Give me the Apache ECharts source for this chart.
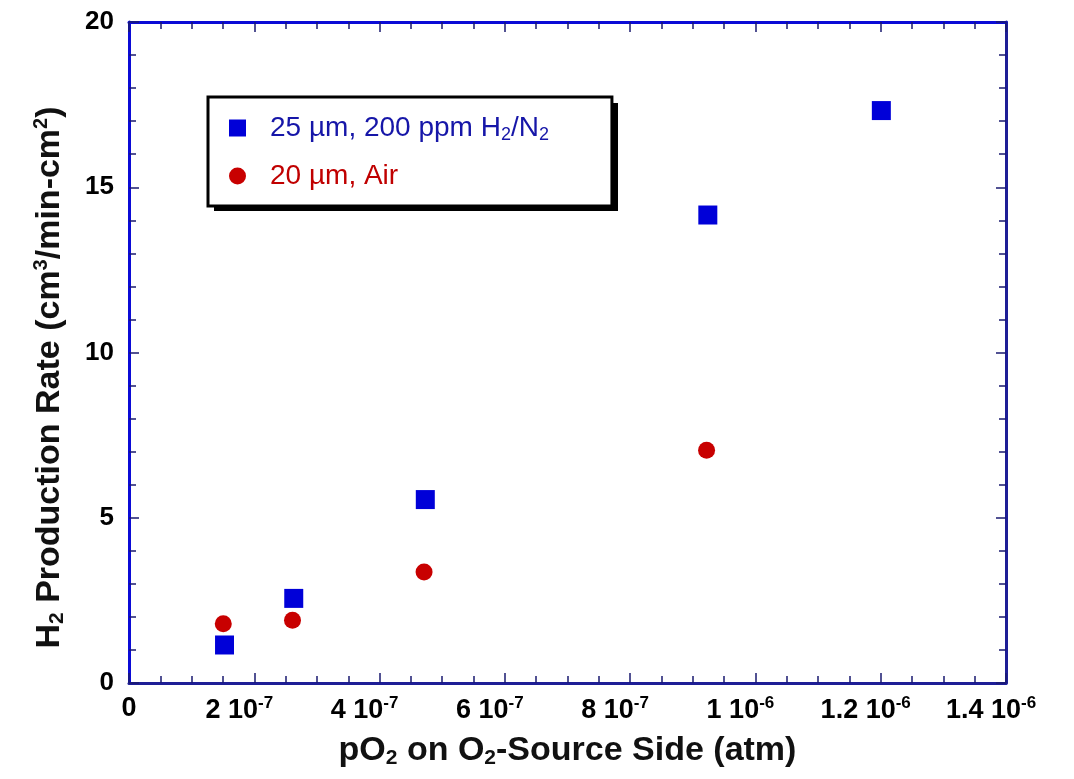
<!DOCTYPE html>
<html>
<head>
<meta charset="utf-8">
<script src="https://cdn.jsdelivr.net/npm/echarts@6/dist/echarts.min.js"></script>
<style>
  html, body { margin: 0; padding: 0; background: #fff; }
  #chart { width: 1074px; height: 779px; }
</style>
</head>
<body>
<div id="chart"></div>
<script>
// H2 production rate vs pO2 on the O2-source side
const seriesNames = ['25 µm, 200 ppm H2/N2', '20 µm, Air'];

const h2n2Po2 = [1.525e-7, 2.63e-7, 4.73e-7, 9.24e-7, 1.201e-6];
const h2n2Rate = [1.15, 2.56, 5.55, 14.16, 17.32];

const airPo2 = [1.505e-7, 2.61e-7, 4.71e-7, 9.22e-7];
const airRate = [1.79, 1.90, 3.36, 7.04];

// tick labels of the pO2 axis (rich text, exponent as superscript)
const xTickLabels = ['0', '2 10{sup|-7}', '4 10{sup|-7}', '6 10{sup|-7}', '8 10{sup|-7}',
  '1 10{sup|-6}', '1.2 10{sup|-6}', '1.4 10{sup|-6}'];

const pairs = (xs, ys) => xs.map((x, i) => [x, ys[i]]);

const chart = echarts.init(document.getElementById('chart'));

const blueLine = '#0b0bd6';
const navyLine = '#1e1e96';
const tickColor = '#1a1a70';
const sans = '"Liberation Sans", Arial, sans-serif';

const tickCommon = {
  show: true, inside: true, length: 10,
  lineStyle: { color: tickColor, width: 1.5 },
};
const minor = (n) => ({ show: true, splitNumber: n, length: 7, lineStyle: { color: tickColor, width: 1.5 } });

chart.setOption({
  animation: false,
  backgroundColor: '#fff',
  grid: { left: 129, right: 68, top: 22, bottom: 96, containLabel: false },
  // drop shadow behind the legend box
  graphic: [{
    type: 'rect',
    left: 214, top: 103,
    shape: { width: 404, height: 108 },
    style: { fill: '#000' },
    z: 1,
  }],
  legend: {
    z: 5,
    orient: 'vertical',
    left: 208,
    top: 97,
    padding: [16, 63, 15, 21],
    itemGap: 17,
    itemWidth: 17,
    itemHeight: 17,
    backgroundColor: '#fff',
    borderColor: '#000',
    borderWidth: 3,
    formatter: (name) => name === seriesNames[0]
      ? '25 µm, 200 ppm H{sub|2}/N{sub|2}' : name,
    textStyle: {
      fontFamily: sans,
      fontSize: 28,
      lineHeight: 30,
      padding: [0, 0, 0, 19],
      rich: {
        sub: { fontSize: 18, fontFamily: sans, padding: [14, 0, 0, 0] },
      },
    },
    data: [
      { name: seriesNames[0], icon: 'rect', itemStyle: { color: '#0000d8' }, textStyle: { color: '#1616a8' } },
      { name: seriesNames[1], icon: 'circle', itemStyle: { color: '#c80000' }, textStyle: { color: '#c00000' } },
    ],
  },
  xAxis: [
    {
      type: 'value',
      position: 'bottom',
      min: 0,
      max: 1.4e-6,
      interval: 2e-7,
      name: 'pO{sub|2} on O{sub|2}-Source Side (atm)',
      nameLocation: 'middle',
      nameGap: 49,
      nameTextStyle: {
        fontFamily: sans, fontWeight: 'bold', fontSize: 34, color: '#111',
        rich: { sub: { fontFamily: sans, fontWeight: 'bold', fontSize: 21, color: '#111', padding: [16, 0, 0, 0] } },
      },
      axisLine: { show: true, onZero: false, lineStyle: { color: navyLine, width: 3 } },
      axisTick: tickCommon,
      minorTick: minor(4),
      splitLine: { show: false },
      axisLabel: {
        margin: 12,
        formatter: (v, i) => xTickLabels[i],
        fontFamily: sans, fontWeight: 'bold', fontSize: 27, color: '#000',
        rich: {
          sup: {
            fontFamily: sans, fontWeight: 'bold', fontSize: 17, color: '#000',
            verticalAlign: 'top', padding: [0, 30, 14, 0],
          },
        },
      },
    },
    {
      type: 'value',
      position: 'top',
      min: 0,
      max: 1.4e-6,
      interval: 2e-7,
      axisLine: { show: true, onZero: false, lineStyle: { color: blueLine, width: 3 } },
      axisTick: tickCommon,
      minorTick: minor(4),
      splitLine: { show: false },
      axisLabel: { show: false },
    },
  ],
  yAxis: [
    {
      type: 'value',
      position: 'left',
      min: 0,
      max: 20,
      interval: 5,
      name: 'H{sub|2} Production Rate (cm{sup|3}/min-cm{sup|2})',
      nameLocation: 'middle',
      nameGap: 61,
      nameRotate: 90,
      nameTextStyle: {
        fontFamily: sans, fontWeight: 'bold', fontSize: 34, color: '#111',
        padding: [0, 50, 0, 0],
        rich: {
          sub: { fontFamily: sans, fontWeight: 'bold', fontSize: 21, color: '#111', padding: [16, 0, 0, 0] },
          sup: { fontFamily: sans, fontWeight: 'bold', fontSize: 20, color: '#111', verticalAlign: 'top', padding: [0, 0, 14, 0] },
        },
      },
      axisLine: { show: true, onZero: false, lineStyle: { color: blueLine, width: 3 } },
      axisTick: tickCommon,
      minorTick: minor(5),
      splitLine: { show: false },
      axisLabel: {
        margin: 15,
        fontFamily: sans, fontWeight: 'bold', fontSize: 26, color: '#000',
      },
    },
    {
      type: 'value',
      position: 'right',
      min: 0,
      max: 20,
      interval: 5,
      axisLine: { show: true, onZero: false, lineStyle: { color: navyLine, width: 3 } },
      axisTick: tickCommon,
      minorTick: minor(5),
      splitLine: { show: false },
      axisLabel: { show: false },
    },
  ],
  series: [
    {
      name: seriesNames[0],
      type: 'scatter',
      symbol: 'rect',
      symbolSize: 19,
      itemStyle: { color: '#0000d8', opacity: 1 },
      data: pairs(h2n2Po2, h2n2Rate),
    },
    {
      name: seriesNames[1],
      type: 'scatter',
      symbol: 'circle',
      symbolSize: 17,
      itemStyle: { color: '#c80000', opacity: 1 },
      data: pairs(airPo2, airRate),
    },
  ],
});

window.addEventListener('resize', () => chart.resize());
</script>
</body>
</html>
